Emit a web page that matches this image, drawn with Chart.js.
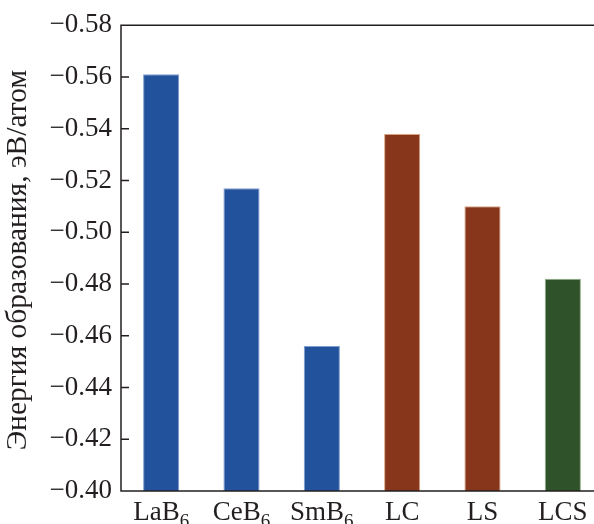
<!DOCTYPE html>
<html>
<head>
<meta charset="utf-8">
<script src="https://cdn.jsdelivr.net/npm/chart.js@4/dist/chart.umd.min.js"></script>
<style>
  html, body { margin: 0; padding: 0; background: #fff; overflow: hidden; }
  #wrap { width: 604px; height: 524px; }
</style>
</head>
<body>
<div id="wrap"><canvas id="myChart" width="604" height="524"></canvas></div>
<script>
const categories = ["LaB₆", "CeB₆", "SmB₆", "LC", "LS", "LCS"];
const energies = [-0.561, -0.517, -0.456, -0.538, -0.510, -0.482];
const barColors = ["#23529c", "#23529c", "#23529c", "#87361b", "#87361b", "#30522a"];
const edgeColors = ["#7f9ed0", "#7f9ed0", "#7f9ed0", "#d9a17f", "#d9a17f", "#8fae86"];
const yMin = -0.58;
const yMax = -0.40;
const yStep = 0.02;
const yTitle = "Энергия образования, эВ/атом";

const ink = "#231f20";
const serif = "'Liberation Serif', 'Times New Roman', serif";

// axes frame, inward ticks, subscripted x labels, rotated y title
const framePlugin = {
    id: "frame",
    afterDatasetsDraw(chart) {
        const ctx = chart.ctx;
        const a = chart.chartArea;
        const x = chart.scales.x;
        const y = chart.scales.y;
        ctx.save();
        ctx.strokeStyle = ink;
        ctx.lineWidth = 1.5;
        ctx.beginPath();
        ctx.moveTo(chart.width, a.top);
        ctx.lineTo(a.left, a.top);
        ctx.lineTo(a.left, a.bottom);
        ctx.lineTo(chart.width, a.bottom);
        y.ticks.forEach((t) => {
            const py = y.getPixelForValue(t.value);
            ctx.moveTo(a.left, py);
            ctx.lineTo(a.left + 8, py);
        });
        ctx.stroke();

        ctx.fillStyle = ink;
        ctx.textBaseline = "alphabetic";
        ctx.textAlign = "left";
        categories.forEach((lab, i) => {
            const main = lab.replace(/[₀-₉]/g, "");
            const sub = lab.replace(/[^₀-₉]/g, "").replace(/[₀-₉]/g, (c) => String(c.charCodeAt(0) - 0x2080));
            ctx.font = "27px " + serif;
            const w1 = ctx.measureText(main).width;
            ctx.font = "19px " + serif;
            const w2 = sub ? ctx.measureText(sub).width : 0;
            const left = x.getPixelForTick(i) - (w1 + w2) / 2;
            ctx.font = "27px " + serif;
            ctx.fillText(main, left, 520);
            if (sub) {
                ctx.font = "19px " + serif;
                ctx.fillText(sub, left + w1, 527);
            }
        });

        ctx.translate(26, (a.top + a.bottom) / 2 + 2);
        ctx.rotate(-Math.PI / 2);
        ctx.textAlign = "center";
        ctx.font = "29.5px " + serif;
        ctx.fillText(yTitle, 0, 0);
        ctx.restore();
    }
};

const config = {
    type: "bar",
    data: {
        labels: categories,
        datasets: [{
            data: energies,
            base: yMax,
            backgroundColor: barColors,
            borderColor: edgeColors,
            borderWidth: 1,
            barPercentage: 0.45,
            categoryPercentage: 1
        }]
    },
    options: {
        responsive: false,
        animation: false,
        layout: { padding: { top: 24, right: 1, left: 0, bottom: 0 } },
        plugins: { legend: { display: false }, tooltip: { enabled: false } },
        scales: {
            x: {
                grid: { display: false, drawTicks: false },
                border: { display: false },
                ticks: { display: false },
                afterFit: (s) => { s.height = 33; }
            },
            y: {
                reverse: true,
                min: yMin,
                max: yMax,
                grid: { display: false, drawTicks: false },
                border: { display: false },
                ticks: {
                    stepSize: yStep,
                    padding: 9,
                    color: ink,
                    font: { family: serif, size: 27 },
                    callback: (v) => Number(v).toFixed(2).replace("-", "−")
                },
                afterFit: (s) => { s.width = 121; }
            }
        }
    },
    plugins: [framePlugin]
};

new Chart(document.getElementById("myChart"), config);
</script>
</body>
</html>
